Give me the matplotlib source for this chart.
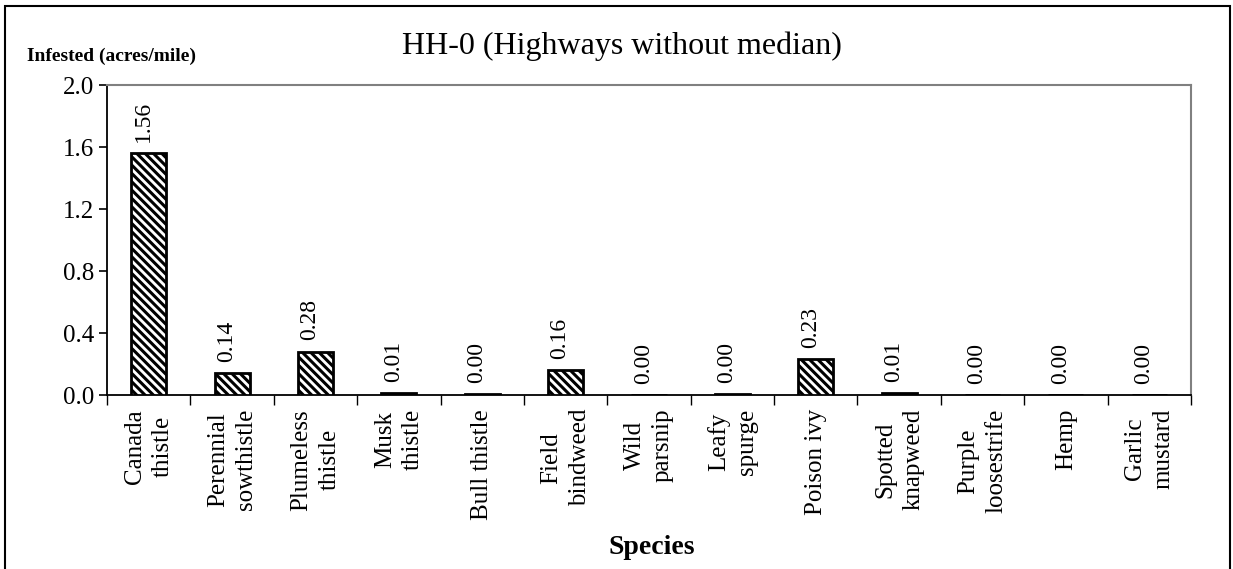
import matplotlib
matplotlib.use("Agg")
import matplotlib.pyplot as plt
from matplotlib.patches import Rectangle
import numpy as np

categories = ["Canada\nthistle", "Perennial\nsowthistle", "Plumeless\nthistle", "Musk\nthistle",
              "Bull thistle", "Field\nbindweed", "Wild\nparsnip", "Leafy\nspurge", "Poison ivy",
              "Spotted\nknapweed", "Purple\nloosestrife", "Hemp", "Garlic\nmustard"]
values = [1.56, 0.14, 0.28, 0.01, 0.004, 0.16, 0.0, 0.004, 0.23, 0.01, 0.0, 0.0, 0.0]
yticks = [0.0, 0.4, 0.8, 1.2, 1.6, 2.0]
title = "HH-0 (Highways without median)"
ylabel = "Infested (acres/mile)"
xlabel = "Species"

plt.rcParams['font.family'] = ['Liberation Serif', 'DejaVu Serif']
plt.rcParams['hatch.linewidth'] = 2.2

fig = plt.figure(figsize=(12.33, 5.69), dpi=100)
ax = fig.add_axes([107/1233, 1-395/569, (1191-107)/1233, (395-85)/569])

x = np.arange(len(categories))
bars = ax.bar(x, values, width=0.42, color='white', edgecolor='black', linewidth=2.0,
              hatch='\\\\\\\\', zorder=3)

for xi, v in zip(x, values):
    ax.annotate(f"{v:.2f}", xy=(xi, v), xytext=(-4, 8), textcoords='offset points',
                rotation=90, ha='center', va='bottom', fontsize=17)

ax.set_xlim(-0.5, len(categories)-0.5)
ax.set_ylim(0, 2.0)
ax.set_yticks(yticks)
ax.set_yticklabels([f"{t:.1f}" for t in yticks], fontsize=18)
ax.tick_params(axis='y', direction='out', length=6, width=1.2, pad=3)

ax.set_xticks(x)
ax.set_xticklabels(categories, rotation=90, fontsize=18, va='top', ha='center',
                   multialignment='center', linespacing=1.35)
ax.tick_params(axis='x', which='major', length=0, pad=10)
ax.set_xticks(np.arange(-0.5, len(categories), 1.0), minor=True)
ax.tick_params(axis='x', which='minor', direction='out', length=7, width=1.0)

for s in ['left', 'bottom']:
    ax.spines[s].set_color('black')
    ax.spines[s].set_linewidth(1.3)
for s in ['top', 'right']:
    ax.spines[s].set_color('#808080')
    ax.spines[s].set_linewidth(1.5)

fig.text(622/1233, 1-46/569, title, ha='center', va='center', fontsize=23)
fig.text(27/1233, 1-56/569, ylabel, ha='left', va='center', fontsize=14, fontweight='bold')
fig.text(652/1233, 1-548/569, xlabel, ha='center', va='center', fontsize=20, fontweight='bold')

fig.patches.append(Rectangle((4.5/1233, -0.02), (1229.5-4.5)/1233, 1.02-6/569,
                             transform=fig.transFigure, fill=False, edgecolor='black',
                             linewidth=1.5))

fig.savefig("out.png", dpi=100)
